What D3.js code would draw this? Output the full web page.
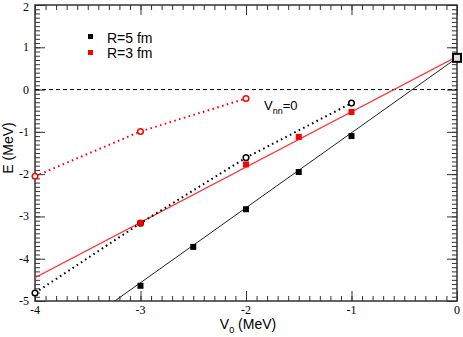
<!DOCTYPE html>
<meta charset="utf-8">
<script src="https://d3js.org/d3.v7.min.js"></script>
<style>
  body { margin: 0; background: #fff; }
</style>
<body>
<div id="chart"></div>
<script>
// data
var xTicks = [-4, -3, -2, -1, 0];
var yTicks = [2, 1, 0, -1, -2, -3, -4, -5];

var r5Points = [[-3, -4.64], [-2.5, -3.72], [-2, -2.83], [-1.5, -1.95], [-1, -1.1], [0, 0.75]];
var r3Points = [[-3, -3.15], [-2, -1.77], [-1.5, -1.12], [-1, -0.53], [0, 0.76]];
var r5Fit = [[-4, -6.34], [0, 0.75]];
var r3Fit = [[-4, -4.45], [0, 0.78]];
var r5Vnn0 = [[-4, -4.81], [-3, -3.16], [-2, -1.61], [-1, -0.32]];
var r3Vnn0 = [[-4, -2.05], [-3, -0.99], [-2, -0.21]];

var margin = {top: 5, right: 6, bottom: 36, left: 35},
    width = 463 - margin.left - margin.right,
    height = 337 - margin.top - margin.bottom;

var svg = d3.select("#chart")
  .append("svg")
    .attr("width", 463)
    .attr("height", 337)
  .append("g")
    .attr("transform", "translate(" + margin.left + "," + margin.top + ")");

var x = d3.scaleLinear().domain([-4, 0]).range([0, width]);
var y = d3.scaleLinear().domain([-5, 2]).range([height, 0]);

svg.append("clipPath").attr("id", "clip")
  .append("rect").attr("width", width).attr("height", height);

// minor + major ticks, inward on all four sides
var minorX = d3.range(-40, 1).map(function(d) { return d / 10; });
var minorY = d3.range(-50, 21).map(function(d) { return d / 10; });

function tickAxis(axis, ticks, size, tf) {
  var g = svg.append("g").attr("transform", tf)
    .call(axis.tickValues(ticks).tickSize(size).tickFormat(""));
  g.select(".domain").remove();
  g.selectAll("line").attr("stroke", "#333").attr("stroke-width", 1);
}
tickAxis(d3.axisTop(x), minorX, 5, "translate(0," + height + ")");
tickAxis(d3.axisTop(x), xTicks, 10, "translate(0," + height + ")");
tickAxis(d3.axisBottom(x), minorX, 5, "translate(0,0)");
tickAxis(d3.axisBottom(x), xTicks, 10, "translate(0,0)");
tickAxis(d3.axisRight(y), minorY, 5, "translate(0,0)");
tickAxis(d3.axisRight(y), yTicks, 10, "translate(0,0)");
tickAxis(d3.axisLeft(y), minorY, 5, "translate(" + width + ",0)");
tickAxis(d3.axisLeft(y), yTicks, 10, "translate(" + width + ",0)");

svg.append("rect")
  .attr("width", width).attr("height", height)
  .attr("fill", "none").attr("stroke", "#333").attr("stroke-width", 1.5);

// tick labels
svg.selectAll(".xl").data(xTicks).enter().append("text")
  .attr("x", function(d) { return x(d); })
  .attr("y", height + 13)
  .attr("text-anchor", "middle")
  .style("font-family", "Liberation Serif, serif").style("font-size", "12px")
  .text(function(d) { return d; });

svg.selectAll(".yl").data(yTicks).enter().append("text")
  .attr("x", -6)
  .attr("y", function(d) { return y(d) + (d === 2 ? 5.5 : 4); })
  .attr("text-anchor", "end")
  .style("font-family", "Liberation Serif, serif").style("font-size", "12px")
  .text(function(d) { return d; });

// axis titles
var xt = svg.append("text")
  .attr("x", width / 2 + 2).attr("y", height + 28)
  .attr("text-anchor", "middle")
  .style("font-family", "Liberation Sans, Arial, sans-serif").style("font-size", "14px");
xt.append("tspan").text("V");
xt.append("tspan").attr("dy", 4).style("font-size", "9px").text("0");
xt.append("tspan").attr("dy", -4).text(" (MeV)");

svg.append("text")
  .attr("transform", "translate(" + (-22) + "," + (height / 2 - 5) + ") rotate(-90)")
  .attr("text-anchor", "middle")
  .style("font-family", "Liberation Sans, Arial, sans-serif").style("font-size", "14px")
  .text("E (MeV)");

// zero line
svg.append("line")
  .attr("x1", 0).attr("x2", width)
  .attr("y1", y(0)).attr("y2", y(0))
  .attr("stroke", "black").attr("stroke-width", 1).attr("stroke-dasharray", "4,3");

var line = d3.line()
  .x(function(d) { return x(d[0]); })
  .y(function(d) { return y(d[1]); });

var plot = svg.append("g").attr("clip-path", "url(#clip)");

plot.append("path").datum(r5Fit)
  .attr("fill", "none").attr("stroke", "#222").attr("stroke-width", 1).attr("d", line);
plot.append("path").datum(r3Fit)
  .attr("fill", "none").attr("stroke", "#ff3030").attr("stroke-width", 1.2).attr("d", line);
plot.append("path").datum(r5Vnn0)
  .attr("fill", "none").attr("stroke", "black").attr("stroke-width", 2)
  .attr("stroke-dasharray", "1.6,3.4").attr("d", line);
plot.append("path").datum(r3Vnn0)
  .attr("fill", "none").attr("stroke", "red").attr("stroke-width", 2)
  .attr("stroke-dasharray", "1.6,3.4").attr("d", line);

// open circles
svg.selectAll(".c5").data(r5Vnn0).enter().append("circle")
  .attr("cx", function(d) { return x(d[0]); })
  .attr("cy", function(d) { return y(d[1]); })
  .attr("r", 2.8).attr("fill", "white").attr("stroke", "black").attr("stroke-width", 1.5);
svg.selectAll(".c3").data(r3Vnn0).enter().append("circle")
  .attr("cx", function(d) { return x(d[0]); })
  .attr("cy", function(d) { return y(d[1]); })
  .attr("r", 2.8).attr("fill", "white").attr("stroke", "red").attr("stroke-width", 1.5);

// filled squares
svg.selectAll(".s5").data(r5Points).enter().append("rect")
  .attr("x", function(d) { return x(d[0]) - 3; })
  .attr("y", function(d) { return y(d[1]) - 3; })
  .attr("width", 6).attr("height", 6).attr("fill", "black");
svg.selectAll(".s3").data(r3Points).enter().append("rect")
  .attr("x", function(d) { return x(d[0]) - 3; })
  .attr("y", function(d) { return y(d[1]) - 3; })
  .attr("width", 6).attr("height", 6).attr("fill", "red");

// the point at V0=0 shows as an open black square
var last = r5Points[r5Points.length - 1];
svg.append("rect")
  .attr("x", x(last[0]) - 4).attr("y", y(last[1]) - 4)
  .attr("width", 8).attr("height", 8)
  .attr("fill", "#ddd").attr("stroke", "black").attr("stroke-width", 2);

// legend
var legend = [["R=5 fm", "black"], ["R=3 fm", "red"]];
legend.forEach(function(l, i) {
  svg.append("rect")
    .attr("x", 53).attr("y", 29 + i * 16)
    .attr("width", 5).attr("height", 5).attr("fill", l[1]);
  svg.append("text")
    .attr("x", 72).attr("y", 38 + i * 15)
    .style("font-family", "Liberation Sans, Arial, sans-serif").style("font-size", "14px")
    .text(l[0]);
});

var vl = svg.append("text")
  .attr("x", 229).attr("y", 105)
  .style("font-family", "Liberation Sans, Arial, sans-serif").style("font-size", "13px");
vl.append("tspan").text("V");
vl.append("tspan").attr("dy", 4).style("font-size", "9px").text("nn");
vl.append("tspan").attr("dy", -4).text("=0");
</script>
</body>
